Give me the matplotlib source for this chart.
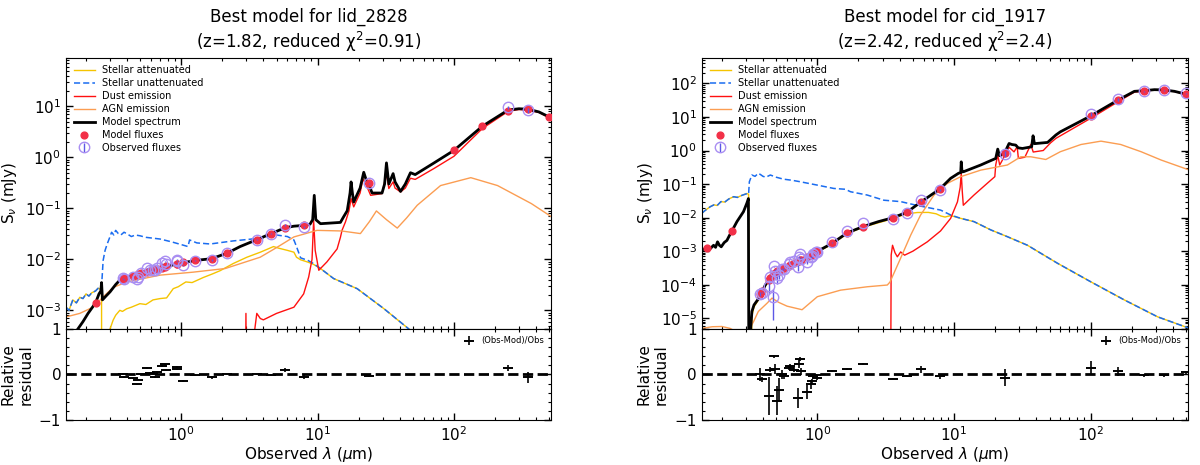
import numpy as np
import matplotlib
matplotlib.use('Agg')
import matplotlib.pyplot as plt
from matplotlib.ticker import LogLocator, MultipleLocator, NullFormatter

nan = np.nan

# ---------------- lid_2828 (left) ----------------
L_title = 'Best model for lid_2828\n(z=1.82, reduced χ$^2$=0.91)'
L_band = [0.235, 0.375, 0.38, 0.444, 0.47, 0.48, 0.51, 0.557, 0.59, 0.62, 0.64, 0.66, 0.72, 0.76, 0.77,
          0.925, 0.93, 1.03, 1.26, 1.67, 2.18, 3.58, 4.54, 5.79, 7.98, 23.7, 100, 162, 250, 350, 500]
L_mod = [1.4e-3, 4.2e-3, 4.3e-3, 4.8e-3, 5.0e-3, 5.1e-3, 5.4e-3, 5.7e-3, 6.0e-3, 6.2e-3, 6.4e-3, 6.5e-3,
         6.9e-3, 7.2e-3, 7.3e-3, 8.2e-3, 8.2e-3, 8.7e-3, 9.5e-3, 1.03e-2, 1.33e-2, 2.43e-2, 3.18e-2,
         4.18e-2, 4.64e-2, 0.32, 1.37, 4.1, 8.3, 8.9, 6.2]
L_obs = [nan, 4.24e-3, 4.10e-3, 4.49e-3, 4.10e-3, 4.59e-3, 5.4e-3, 6.71e-3, 6.25e-3, 6.2e-3, 6.10e-3,
         6.84e-3, 8.41e-3, 9.23e-3, 8.11e-3, 9.76e-3, 9.21e-3, 7.57e-3, 9.41e-3, 9.72e-3, 1.33e-2,
         2.43e-2, 3.15e-2, 4.64e-2, 4.38e-2, 0.311, nan, nan, 9.65, 8.40, nan]
L_err = [nan, 8e-5, 8e-5, 9e-5, 8e-5, 9e-5, 1.1e-4, 1.3e-4, 1.2e-4, 1.2e-4, 1.2e-4, 1.4e-4, 1.7e-4,
         1.8e-4, 1.6e-4, 2.0e-4, 1.8e-4, 1.5e-4, 1.9e-4, 2.9e-4, 2.7e-4, 4.9e-4, 6.3e-4, 2.3e-3,
         1.75e-3, 9e-3, nan, nan, 0.68, 1.0, nan]

L_spec_lam = [0.165, 0.171, 0.19, 0.207, 0.235, 0.249, 0.257, 0.26, 0.264, 0.28, 0.30, 0.33, 0.354, 0.39,
              0.50, 0.60, 0.78, 1.0, 1.26, 1.67, 2.18, 2.7, 3.58, 4.54, 5.79, 6.7, 7.98, 8.8, 9.2, 9.45,
              9.7, 10.5, 14.7, 15.5, 16.5, 17.3, 17.6, 18.0, 18.4, 20.5, 21.8, 22.8, 23.7, 25.1, 29.7,
              31.0, 32.0, 33.3, 35.8, 37.0, 40.6, 44.0, 48.0, 52.0, 71.0, 100, 162, 250, 300, 350, 420,
              500, 530]
L_spec = [3.0e-4, 4.0e-4, 6.0e-4, 8.7e-4, 1.4e-3, 2.1e-3, 2.4e-3, 3.5e-3, 1.6e-3, 1.9e-3, 2.3e-3,
          3.2e-3, 3.9e-3, 4.37e-3, 5.2e-3, 6.0e-3, 7.3e-3, 8.4e-3, 9.5e-3, 1.03e-2, 1.33e-2, 1.78e-2,
          2.43e-2, 3.18e-2, 4.18e-2, 4.47e-2, 4.64e-2, 4.9e-2, 6.0e-2, 0.18, 6.0e-2, 5.0e-2, 5.3e-2,
          6.8e-2, 9.0e-2, 0.2, 0.33, 0.2, 0.133, 0.25, 0.51, 0.35, 0.30, 0.20, 0.20, 0.30, 0.78, 0.30,
          0.48, 0.33, 0.215, 0.30, 0.50, 0.46, 0.77, 1.37, 4.1, 8.5, 9.0, 8.8, 7.8, 6.2, 5.2]

L_dust_lam = [2.93, 2.98, 3.03, 3.2, 3.45, 3.58, 3.8, 4.0, 5.0, 6.7, 7.9, 8.6, 9.1, 9.35, 9.6, 10.2, 11.7,
              13.9, 14.7, 15.1, 16.0, 17.0, 17.6, 18.4, 20.5, 21.5, 23.1, 24.5, 29.7, 32.0, 33.3, 35.8,
              37.0, 40.6, 44.0, 48.0, 52.0, 71.0, 100, 162, 250, 300, 350, 420, 500, 530]
L_dust = [1e-6, 8.7e-4, 1e-6, 1e-6, 4.0e-4, 8.7e-4, 6.9e-4, 6.5e-4, 8.7e-4, 1.15e-3, 2.1e-3, 4.5e-3,
          1.0e-2, 0.058, 1.5e-2, 6.1e-3, 8.9e-3, 1.6e-2, 2.7e-2, 3.7e-2, 5.4e-2, 9.0e-2, 0.155, 0.107,
          0.20, 0.38, 0.26, 0.18, 0.195, 0.48, 0.245, 0.33, 0.25, 0.21, 0.25, 0.39, 0.37, 0.60, 1.05,
          3.7, 8.0, 8.7, 8.5, 7.6, 6.0, 5.1]

L_agn_lam = [0.1426, 0.18, 0.225, 0.265, 0.316, 0.397, 0.70, 1.22, 2.1, 3.79, 5.0, 6.7, 9.9, 15.0, 20.6,
             24.0, 27.0, 32.0, 38.4, 45.0, 53.8, 79.8, 133, 209, 370, 530]
L_agn = [7.4e-4, 8.7e-4, 1.15e-3, 1.8e-3, 2.8e-3, 3.6e-3, 4.9e-3, 5.6e-3, 6.6e-3, 1.1e-2, 1.7e-2,
         2.75e-2, 3.7e-2, 3.6e-2, 3.2e-2, 5.5e-2, 8.9e-2, 6.0e-2, 4.1e-2, 6.5e-2, 0.115, 0.28, 0.40,
         0.28, 0.124, 0.066]

L_unatt_lam = [0.1426, 0.15, 0.16, 0.17, 0.18, 0.19, 0.2, 0.21, 0.22, 0.235, 0.245, 0.255, 0.26, 0.267,
               0.276, 0.286, 0.297, 0.308, 0.32, 0.33, 0.345, 0.36, 0.38, 0.397, 0.43, 0.46, 0.497, 0.55,
               0.62, 0.70, 0.85, 1.03, 1.12, 1.15, 1.3, 1.63, 2.41, 3.8, 5.0, 6.0, 6.7, 7.0, 7.5, 8.5,
               9.3, 10.5, 13.1, 19.5, 30.6, 46.7, 60.0]
L_unatt = [1.15e-3, 1.0e-3, 1.6e-3, 1.4e-3, 1.8e-3, 1.7e-3, 2.1e-3, 1.9e-3, 2.2e-3, 2.4e-3, 2.7e-3,
           2.6e-3, 2.9e-3, 9.5e-3, 1.5e-2, 2.0e-2, 2.6e-2, 3.4e-2, 3.0e-2, 3.7e-2, 3.2e-2, 3.0e-2,
           3.4e-2, 3.2e-2, 2.8e-2, 3.0e-2, 2.9e-2, 2.7e-2, 2.6e-2, 2.5e-2, 2.2e-2, 1.9e-2, 1.78e-2,
           2.4e-2, 2.1e-2, 2.0e-2, 2.3e-2, 2.6e-2, 3.0e-2, 2.8e-2, 2.4e-2, 1.78e-2, 1.07e-2, 9.5e-3,
           8.3e-3, 6.6e-3, 4.2e-3, 2.66e-3, 1.08e-3, 4.3e-4, 2.0e-4]

# attenuated stellar: same as unattenuated blueward of 0.26 um and redward of 10 um
L_att_mid_lam = [0.2605, 0.298, 0.30, 0.316, 0.33, 0.354, 0.37, 0.397, 0.43, 0.497, 0.55, 0.62, 0.70,
                 0.78, 0.873, 0.95, 1.08, 1.2, 1.45, 1.7, 1.93, 2.41, 3.03, 3.8, 4.75, 5.2, 6.0, 6.7,
                 7.0, 7.5, 8.5, 9.3]
L_att_mid = [1e-6, 1e-6, 4.3e-4, 6.4e-4, 8.0e-4, 1.0e-3, 9.5e-4, 1.07e-3, 1.15e-3, 1.35e-3, 1.3e-3,
             1.6e-3, 1.7e-3, 1.75e-3, 2.66e-3, 2.9e-3, 3.6e-3, 3.5e-3, 4.4e-3, 5.2e-3, 6.0e-3, 8.3e-3,
             1.1e-2, 1.38e-2, 1.78e-2, 1.65e-2, 1.5e-2, 1.38e-2, 1.1e-2, 9.8e-3, 8.8e-3, 8.0e-3]

# ---------------- cid_1917 (right) ----------------
R_title = 'Best model for cid_1917\n(z=2.42, reduced χ$^2$=2.4)'
R_band = [0.157, 0.237, 0.382, 0.393, 0.44, 0.452, 0.473, 0.478, 0.49, 0.506, 0.526, 0.551, 0.57, 0.616,
          0.63, 0.67, 0.72, 0.73, 0.75, 0.76, 0.84, 0.90, 0.92, 0.93, 0.98, 1.0, 1.28, 1.65, 2.16, 3.57,
          4.5, 5.77, 7.9, 23.5, 100, 158, 245, 345, 495]
R_mod = [1.27e-3, 3.98e-3, 5.3e-5, 6.5e-5, 1.35e-4, 1.55e-4, 2.0e-4, 2.1e-4, 2.3e-4, 2.5e-4, 2.65e-4,
         2.9e-4, 3.1e-4, 3.65e-4, 3.8e-4, 4.4e-4, 5.0e-4, 5.1e-4, 5.5e-4, 5.6e-4, 6.8e-4, 7.9e-4,
         8.2e-4, 8.4e-4, 9.5e-4, 1.0e-3, 1.7e-3, 3.5e-3, 5.4e-3, 9.9e-3, 0.0143, 0.0298, 0.070, 0.86,
         10.6, 31.8, 60, 63, 48]
R_obs = [nan, nan, 5.3e-5, 5.86e-5, 9.12e-5, 1.74e-4, 4.2e-5, 3.5e-4, 2.61e-4, 1.59e-4, 1.99e-4,
         2.9e-4, 2.98e-4, 4.29e-4, 4.63e-4, 4.94e-4, 3.31e-4, 6.62e-4, 8.33e-4, 6.02e-4, 4.89e-4,
         6.48e-4, 7.13e-4, 8.08e-4, 9.41e-4, 9.35e-4, 1.83e-3, 3.98e-3, 7.01e-3, 9.08e-3, 0.01375,
         0.0335, 0.0673, 0.804, 12.5, 34.2, 58.8, 61.8, 50.5]
R_err = [nan, nan, 8e-6, 2.9e-6, 3.8e-5, 8.7e-6, 3.3e-5, 1.05e-5, 3.1e-5, 5.2e-5, 5.0e-5, 2.9e-5,
         1.8e-5, 2.6e-5, 2.3e-5, 2.5e-5, 7.3e-5, 5.3e-5, 3.3e-5, 4.8e-5, 7.3e-5, 6.5e-5, 4.3e-5,
         3.2e-5, 2.8e-5, 4.7e-5, 3.7e-5, 8e-5, 1.4e-4, 1.8e-4, 2.8e-4, 2.3e-3, 4.0e-3, 0.145, 1.9,
         3.4, 1.8, 1.9, 1.5]

R_spec_lam = [0.1426, 0.150, 0.157, 0.165, 0.174, 0.180, 0.186, 0.192, 0.198, 0.208, 0.218, 0.228,
              0.237, 0.258, 0.288, 0.305, 0.313, 0.3155, 0.32, 0.326, 0.332, 0.344, 0.372, 0.386, 0.416,
              0.44, 0.478, 0.536, 0.60, 0.671, 0.751, 0.841, 0.942, 1.05, 1.28, 1.65, 2.16, 2.8, 3.57,
              4.5, 5.77, 7.9, 9.45, 10.8, 11.2, 11.3, 11.45, 11.8, 15.7, 17.5, 20.2, 20.9, 21.5, 22.2,
              23.5, 25.3, 26.5, 28.3, 29.5, 31.7, 37.0, 37.9, 38.8, 48.4, 55.7, 60, 100, 158, 209, 250,
              293, 341, 411, 495, 530]
R_spec = [1.2e-3, 1.1e-3, 1.27e-3, 1.2e-3, 1.5e-3, 1.3e-3, 1.9e-3, 1.5e-3, 1.35e-3, 1.8e-3, 2.1e-3,
          3.0e-3, 3.98e-3, 7.6e-3, 1.5e-2, 2.7e-2, 3.7e-2, 1e-7, 1e-7, 5.5e-6, 1.6e-5, 2.5e-5, 3.9e-5,
          5.3e-5, 9.8e-5, 1.35e-4, 2.1e-4, 2.75e-4, 3.5e-4, 4.4e-4, 5.5e-4, 6.8e-4, 8.7e-4, 1.1e-3,
          1.7e-3, 3.5e-3, 5.4e-3, 7.6e-3, 9.9e-3, 1.43e-2, 2.98e-2, 7.2e-2, 0.148, 0.21, 0.22, 0.46,
          0.23, 0.235, 0.37, 0.45, 0.58, 1.10, 0.70, 0.73, 0.86, 1.62, 1.51, 1.45, 1.20, 1.15, 1.29,
          2.75, 1.60, 1.74, 2.90, 3.60, 10.7, 31.6, 58, 61, 65, 64, 58, 48, 44]

R_dust_lam = [3.44, 3.47, 3.55, 3.7, 3.85, 4.07, 4.35, 5.0, 6.38, 7.97, 9.45, 10.6, 11.1, 11.3, 11.5,
              11.7, 14.0, 17.5, 19.9, 20.2, 20.9, 21.6, 22.5, 25.3, 27.5, 29.0, 29.6, 33.0, 36.5, 38.0,
              45.0, 51.0, 55.7, 100, 158, 209, 250, 293, 341, 411, 495, 530]
R_dust = [1e-7, 7.7e-4, 1.5e-3, 9e-4, 6.8e-4, 9.5e-4, 7.6e-4, 1.0e-3, 1.9e-3, 4.0e-3, 9.5e-3, 2.95e-2,
          0.08, 0.21, 0.06, 0.0234, 0.047, 0.105, 0.166, 0.37, 0.73, 0.37, 0.50, 1.25, 0.91, 1.29,
          0.58, 0.63, 1.51, 0.9, 1.0, 1.70, 2.3, 9.1, 28.0, 55, 59, 64, 63, 57, 47, 43]

R_agn_lam = [0.1426, 0.17, 0.2, 0.23, 0.27, 0.31, 0.318, 0.341, 0.37, 0.428, 0.466, 0.52, 0.6, 0.773,
             1.0, 1.48, 2.32, 3.25, 3.4, 4.07, 4.82, 5.7, 7.14, 8.95, 11.2, 15.7, 24.6, 30.8, 36.5,
             47, 60, 85, 119, 166, 234, 328, 530]
R_agn = [5.0e-6, 5.6e-6, 5.7e-6, 5.0e-6, 3.5e-6, 3.0e-6, 4.7e-6, 7.9e-6, 1.6e-5, 2.8e-5, 4.0e-5,
         3.0e-5, 2.3e-5, 1.8e-5, 4.4e-5, 6.9e-5, 8.7e-5, 9.8e-5, 1.2e-4, 6.2e-4, 3.0e-3, 1.2e-2,
         4.7e-2, 0.105, 0.166, 0.26, 0.37, 0.65, 0.65, 0.54, 0.92, 1.51, 1.9, 1.51, 0.92, 0.52, 0.26]

R_unatt_lam = [0.1426, 0.15, 0.164, 0.175, 0.185, 0.197, 0.21, 0.225, 0.244, 0.26, 0.28, 0.305, 0.314,
               0.318, 0.332, 0.35, 0.37, 0.385, 0.40, 0.42, 0.453, 0.50, 0.565, 0.65, 0.751, 1.0, 1.32,
               1.6, 1.75, 2.32, 3.07, 4.07, 5.39, 7.97, 9.45, 11.2, 14, 18.6, 24.6, 34.5, 57, 100,
               177, 310, 530]
R_unatt = [0.0134, 0.016, 0.021, 0.024, 0.023, 0.030, 0.029, 0.036, 0.042, 0.040, 0.046, 0.052,
           0.050, 0.117, 0.186, 0.17, 0.21, 0.19, 0.17, 0.16, 0.186, 0.16, 0.14, 0.13, 0.117, 0.093,
           0.074, 0.07, 0.059, 0.047, 0.033, 0.030, 0.023, 0.0168, 0.012, 0.0095, 0.0076, 0.0043,
           0.0027, 0.0015, 4.4e-4, 1.23e-4, 3.5e-5, 1.1e-5, 5.0e-6]

R_att_mid_lam = [0.3155, 0.326, 0.332, 0.344, 0.372, 0.386, 0.416, 0.44, 0.478, 0.536, 0.60, 0.751,
                 1.05, 1.28, 1.65, 2.16, 3.57, 4.5, 5.4, 6.5, 7.4, 8.0, 8.6, 9.45]
R_att_mid = [1e-7, 1e-7, 1.2e-5, 2.2e-5, 3.6e-5, 5.0e-5, 9.2e-5, 1.25e-4, 1.95e-4, 2.6e-4, 3.3e-4,
             5.2e-4, 1.05e-3, 1.6e-3, 3.3e-3, 5.2e-3, 9.3e-3, 1.30e-2, 1.42e-2, 1.43e-2, 1.30e-2,
             1.12e-2, 1.04e-2, 1.15e-2]

XLIM = (0.1426, 519)
C_ATT = '#f5c400'
C_UNATT = '#1a6cf0'
C_DUST = '#ff1010'
C_AGN = '#fb9d52'
C_MOD = '#f23048'
C_OBS = '#a98ef2'


def join_att(unatt_lam, unatt, mid_lam, mid, lo, hi):
    ul = np.array(unatt_lam)
    uf = np.array(unatt)
    lam = np.r_[ul[ul <= lo], mid_lam, ul[ul >= hi]]
    flx = np.r_[uf[ul <= lo], mid, uf[ul >= hi]]
    return lam, flx


def style_axes(ax):
    ax.tick_params(which='both', direction='in', top=True, right=True)
    ax.tick_params(which='major', length=5, width=1, labelsize=11)
    ax.tick_params(which='minor', length=2.5, width=0.8)


def draw_panel(ax, axr, title, band, mod, obs, err, spec_lam, spec, dust_lam, dust,
               agn_lam, agn, unatt_lam, unatt, att_lam, att, ylim):
    band = np.array(band); mod = np.array(mod)
    obs = np.array(obs); err = np.array(err)

    ax.plot(att_lam, att, color=C_ATT, lw=1, label='Stellar attenuated')
    ax.plot(unatt_lam, unatt, color=C_UNATT, lw=1.1, ls=(0, (4, 2)), label='Stellar unattenuated')
    ax.plot(dust_lam, dust, color=C_DUST, lw=1, label='Dust emission')
    ax.plot(agn_lam, agn, color=C_AGN, lw=1, label='AGN emission')
    ax.plot(spec_lam, spec, color='k', lw=2, label='Model spectrum')
    ax.scatter(band, mod, s=24, color=C_MOD, zorder=3, label='Model fluxes')
    ok = ~np.isnan(obs)
    ax.errorbar(band[ok], obs[ok], yerr=err[ok], ls='', marker='o', ms=7.5, mfc='none',
                mec=C_OBS, mew=1, ecolor='#5c58e6', elinewidth=1, capsize=0,
                label='Observed fluxes', zorder=4)

    ax.set_xscale('log')
    ax.set_yscale('log')
    ax.set_xlim(XLIM)
    ax.set_ylim(ylim)
    ax.yaxis.set_major_locator(LogLocator(base=10, numticks=20))
    ax.yaxis.set_minor_locator(LogLocator(base=10, subs=np.arange(2, 10), numticks=200))
    ax.yaxis.set_minor_formatter(NullFormatter())
    style_axes(ax)
    ax.tick_params(labelbottom=False)
    ax.set_ylabel('S$_{\\nu}$ (mJy)', fontsize=11)
    ax.set_title(title, fontsize=12, pad=7)
    ax.legend(loc='upper left', fontsize=7, frameon=False, labelspacing=0.3,
              handlelength=2.2, handletextpad=0.7, borderaxespad=0.4)

    res = (obs - mod) / obs
    rerr = err / obs
    axr.errorbar(band[ok], res[ok], yerr=rerr[ok], marker='_', ms=7, mew=1.4, color='k',
                 ls='None', lw=1.2, capsize=0, label='(Obs-Mod)/Obs')
    axr.plot(XLIM, [0, 0], ls='--', color='k', lw=2)
    axr.set_xscale('log')
    axr.set_xlim(XLIM)
    axr.set_ylim(-1, 1)
    axr.yaxis.set_major_locator(MultipleLocator(1))
    axr.yaxis.set_minor_locator(MultipleLocator(0.2))
    axr.xaxis.set_major_locator(LogLocator(base=10, numticks=20))
    axr.xaxis.set_minor_locator(LogLocator(base=10, subs=np.arange(2, 10), numticks=200))
    axr.xaxis.set_minor_formatter(NullFormatter())
    style_axes(axr)
    axr.set_ylabel('Relative\nresidual', fontsize=11)
    axr.set_xlabel('Observed $\\lambda$ ($\\mu$m)', fontsize=11, labelpad=1)
    axr.legend(loc='upper right', fontsize=6, frameon=False, handlelength=1.2)


fig = plt.figure(figsize=(12, 4.65), dpi=100)
axL = fig.add_axes([0.055, 0.2925, 0.4045, 0.5838])
axLr = fig.add_axes([0.055, 0.0968, 0.4045, 0.1957])
axR = fig.add_axes([0.5848, 0.2925, 0.4055, 0.5838])
axRr = fig.add_axes([0.5848, 0.0968, 0.4055, 0.1957])

L_att_lam, L_att = join_att(L_unatt_lam, L_unatt, L_att_mid_lam, L_att_mid, 0.26, 10.5)
R_att_lam, R_att = join_att(R_unatt_lam, R_unatt, R_att_mid_lam, R_att_mid, 0.314, 11.2)

draw_panel(axL, axLr, L_title, L_band, L_mod, L_obs, L_err, L_spec_lam, L_spec,
           L_dust_lam, L_dust, L_agn_lam, L_agn, L_unatt_lam, L_unatt, L_att_lam, L_att,
           (4.3e-4, 91))
draw_panel(axR, axRr, R_title, R_band, R_mod, R_obs, R_err, R_spec_lam, R_spec,
           R_dust_lam, R_dust, R_agn_lam, R_agn, R_unatt_lam, R_unatt, R_att_lam, R_att,
           (4.8e-6, 590))

fig.savefig('out.png', dpi=100)
